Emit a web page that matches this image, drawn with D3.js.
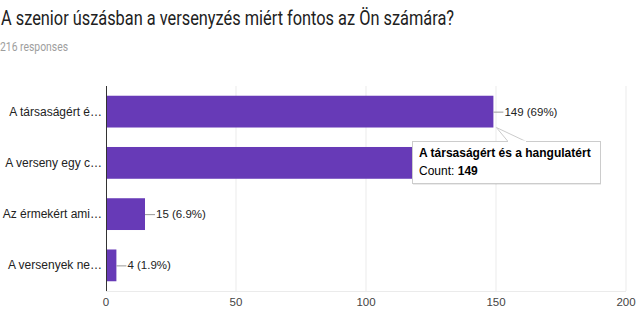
<!DOCTYPE html>
<html>
<head>
<meta charset="utf-8">
<script src="https://cdn.jsdelivr.net/npm/d3@7"></script>
<style>
  html, body { margin: 0; padding: 0; background: #fff; }
  svg { display: block; }
</style>
</head>
<body>
<svg id="chart" width="640" height="336"></svg>
<script>
// Survey question and answer counts
const title = "A szenior úszásban a versenyzés miért fontos az Ön számára?";
const totalResponses = 216;
const categories = ["A társaságért é…", "A verseny egy c…", "Az érmekért ami…", "A versenyek ne…"];
const counts = [149, 124, 15, 4];
const xTicks = [0, 50, 100, 150, 200];
const tooltipTitle = "A társaságért és a hangulatért";
const hoveredIndex = 0;

const svg = d3.select("#chart");
const font = "Arial, 'Liberation Sans', sans-serif";

// Header
svg.append("text")
  .attr("x", 1).attr("y", 25)
  .attr("font-family", "Roboto, sans-serif")
  .attr("font-size", 20)
  .attr("fill", "#212121")
  .attr("textLength", 453)
  .attr("lengthAdjust", "spacingAndGlyphs")
  .text(title);
svg.append("text")
  .attr("x", 0).attr("y", 51)
  .attr("font-family", "Roboto, sans-serif")
  .attr("font-size", 12)
  .attr("fill", "#9e9e9e")
  .attr("textLength", 68)
  .attr("lengthAdjust", "spacingAndGlyphs")
  .text(`${totalResponses} responses`);

// Scales
const x = d3.scaleLinear().domain([0, 200]).range([106, 626]);
const y = d3.scaleBand().domain(categories).range([86, 291])
  .paddingInner(0.38).paddingOuter(0.19);
const plotTop = 86, plotBottom = 291;

// Gridlines
svg.append("g")
  .selectAll("line")
  .data(xTicks.filter(t => t !== 0))
  .join("line")
  .attr("x1", d => x(d)).attr("x2", d => x(d))
  .attr("y1", plotTop).attr("y2", plotBottom)
  .attr("stroke", "#ebebeb").attr("stroke-width", 1);
svg.append("line")
  .attr("x1", x(0)).attr("x2", x(200))
  .attr("y1", plotBottom + 0.5).attr("y2", plotBottom + 0.5)
  .attr("stroke", "#ebebeb");

// Bars
svg.append("g")
  .selectAll("rect")
  .data(categories)
  .join("rect")
  .attr("x", x(0))
  .attr("y", d => y(d))
  .attr("width", (d, i) => x(counts[i]) - x(0))
  .attr("height", y.bandwidth())
  .attr("fill", "#673ab7");

// Baseline
svg.append("line")
  .attr("x1", x(0) + 0.5).attr("x2", x(0) + 0.5)
  .attr("y1", plotTop).attr("y2", plotBottom)
  .attr("stroke", "#333").attr("stroke-width", 1);

// Value annotations with leader lines (the row under the open tooltip stays covered)
const ann = svg.append("g");
categories.forEach((c, i) => {
  if (i === hoveredIndex + 1) return;
  const cy = y(c) + y.bandwidth() / 2;
  const x0 = x(counts[i]);
  const pct = counts[i] / totalResponses * 100;
  const pctText = pct >= 10 ? Math.round(pct) + "%" : pct.toFixed(1) + "%";
  ann.append("line")
    .attr("x1", x0).attr("x2", x0 + 10)
    .attr("y1", cy + 0.5).attr("y2", cy + 0.5)
    .attr("stroke", "#999");
  ann.append("text")
    .attr("x", x0 + 11).attr("y", cy + 4)
    .attr("font-family", font).attr("font-size", 11.5)
    .attr("fill", "#222")
    .text(`${counts[i]} (${pctText})`);
});

// Category labels
svg.append("g")
  .selectAll("text")
  .data(categories)
  .join("text")
  .attr("x", 102)
  .attr("y", d => y(d) + y.bandwidth() / 2 + 4)
  .attr("text-anchor", "end")
  .attr("font-family", font).attr("font-size", 12)
  .attr("fill", "#222")
  .text(d => d);

// X tick labels
svg.append("g")
  .selectAll("text")
  .data(xTicks)
  .join("text")
  .attr("x", d => x(d))
  .attr("y", 306)
  .attr("text-anchor", "middle")
  .attr("font-family", font).attr("font-size", 11.5)
  .attr("fill", "#444")
  .text(d => d);

// Hover tooltip for the first bar
const tipX = 412, tipY = 141, tipW = 188, tipH = 42;
const barEnd = x(counts[hoveredIndex]);
const barBottom = y(categories[hoveredIndex]) + y.bandwidth();
const tip = svg.append("g");
tip.append("rect")
  .attr("x", tipX + 1).attr("y", tipY + 2)
  .attr("width", tipW).attr("height", tipH)
  .attr("fill", "#000").attr("opacity", 0.08);
tip.append("path")
  .attr("d", `M${barEnd + 3},${barBottom} L${tipX + 114},${tipY + 0.5} L${tipX + 96},${tipY + 0.5} Z`)
  .attr("fill", "#fff").attr("stroke", "#ccc");
tip.append("rect")
  .attr("x", tipX + 0.5).attr("y", tipY + 0.5)
  .attr("width", tipW).attr("height", tipH)
  .attr("fill", "#fff").attr("stroke", "#ccc");
tip.append("rect")
  .attr("x", tipX + 96).attr("y", tipY - 0.5)
  .attr("width", 18).attr("height", 2)
  .attr("fill", "#fff");
tip.append("text")
  .attr("x", tipX + 7).attr("y", tipY + 16)
  .attr("font-family", font).attr("font-size", 12)
  .attr("font-weight", "bold").attr("fill", "#000")
  .text(tooltipTitle);
const t2 = tip.append("text")
  .attr("x", tipX + 7).attr("y", tipY + 34)
  .attr("font-family", font).attr("font-size", 12)
  .attr("fill", "#000");
t2.append("tspan").text("Count: ");
t2.append("tspan").attr("font-weight", "bold").text(counts[hoveredIndex]);
</script>
</body>
</html>
